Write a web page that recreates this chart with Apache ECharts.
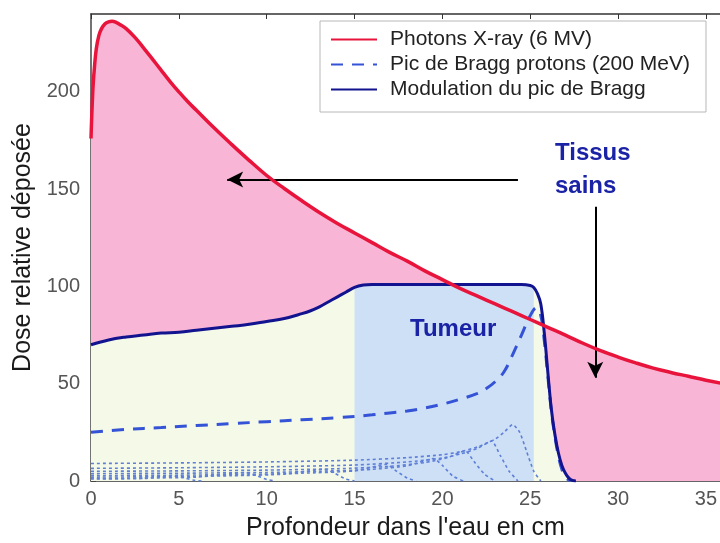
<!DOCTYPE html>
<html>
<head>
<meta charset="utf-8">
<script src="https://cdn.jsdelivr.net/npm/echarts@6/dist/echarts.min.js"></script>
<style>html,body{margin:0;padding:0;background:#fff}#c{width:720px;height:543px}</style>
</head>
<body>
<div id="c"></div>
<script>
// ---- data ----
const seriesNames = ['Photons X-ray (6 MV)', 'Pic de Bragg protons (200 MeV)', 'Modulation du pic de Bragg'];
const xAxisTitle = "Profondeur dans l'eau en cm";
const yAxisTitle = 'Dose relative déposée';

const photonDepth = [0,0.1,0.2,0.3,0.45,0.6,0.8,1.0,1.2,1.45,1.7,2,2.5,3,3.5,4,4.5,5,5.5,6,7,8,9,10,11,12,13,14,15,16,17,18,19,20,21,22,23,24,25,26,27,28,29,30,31,32,33,34,35,36];
const photonDose  = [176,200,213,222,229,232.5,235,236,236.3,235.6,234.3,232.5,228,222.5,216.8,211,205.3,200,195,190.5,181.5,173,164.8,157,150.3,144,138,132.5,127.5,122.5,117.5,113,108,103.5,99,95,91,87,83,79,75,70.8,67,63.7,60.7,58,55.8,53.8,51.8,50];

const sobpDepth = [0,1,2,3,4,5,6,7,8,9,10,11,12,12.5,13,13.5,14,14.5,15,15.5,16,18,20,22,24,24.5,25,25.2,25.4,25.6,25.8,26,26.2,26.4,26.6,26.8,27,27.2,27.4,27.6];
const sobpDose  = [70,72.5,74,75,76,76.5,77.5,78.5,79.5,80.5,82,83.5,86,87.5,89.5,92,94.5,97,99.5,100.7,101,101,101,101,101,101,100.5,99.5,96.5,91,76,56,37,24,14.5,8,4,1.5,0.3,0];

const braggDepth = [0,2,4,6,8,10,12,14,16,17,18,19,20,21,22,22.5,23,23.5,24,24.5,25,25.35,25.6,25.8,26,26.2,26.4,26.6,26.8,27,27.3];
const braggDose  = [25,26.5,27.5,28.5,29.5,30.5,31.5,32.5,34,35,36,37.5,39.5,42,45,47.5,51,56,65,75,85,89,85,72,54,36,23,13,6,2,0];

// individual weighted Bragg peaks (dotted)
const peak1Depth = [0,5,10,15,18,20,21,22,23,23.5,24,24.4,24.8,25.2,25.6];
const peak1Dose  = [9,9.3,9.8,10.7,12,13.5,15,17.5,21.5,25,29,25,15,5,0];
const peak2Depth = [0,5,10,15,18,20,21,22,22.8,23.3,23.8,24.3];
const peak2Dose  = [6.5,6.8,7.3,8.2,9.8,11.8,13.8,16.8,20.5,13,5,0];
const peak3Depth = [0,5,10,14,17,19,20.3,21.3,21.8,22.4,23];
const peak3Dose  = [5,5.2,5.6,6.3,7.5,9.5,12,15.5,10,3.5,0];
const peak4Depth = [0,5,10,13,16,18,19.5,20,20.6,21.2];
const peak4Dose  = [3.8,4,4.4,5,6,7.8,11.5,8,2.5,0];
const peak5Depth = [0,5,9,12,15,16.8,17.4,18,18.5];
const peak5Dose  = [2.8,3,3.4,4,5.2,8.5,5,1.5,0];
const peak6Depth = [0,4,8,11,13.3,13.9,14.5,15];
const peak6Dose  = [2,2.2,2.7,3.5,6,3.8,1,0];
const peak7Depth = [0,3,6,8.8,9.4,10,10.5];
const peak7Dose  = [1.3,1.5,2,4.3,2.8,0.8,0];
const peak8Depth = [0,3,4.6,5.2,5.8,6.3];
const peak8Dose  = [1,1.3,2.8,1.8,0.5,0];

const tumourRange = [15, 25.2];
const xTicks = [0,5,10,15,20,25,30,35];
const yTicks = [0,50,100,150,200];

// annotations
const annotTissus = ['Tissus', 'sains'];
const annotTumeur = 'Tumeur';
const arrowLeft = [[24.3,155],[7.75,155]];
const arrowDown = [[28.7,141],[28.7,53]];

// ---- build ----
const zip = (xs, ys) => xs.map((x, i) => [x, ys[i]]);
const photon = zip(photonDepth, photonDose);
const sobp = zip(sobpDepth, sobpDose);
const bragg = zip(braggDepth, braggDose);
const tumour = sobp.filter(p => p[0] >= tumourRange[0] && p[0] <= tumourRange[1]);
const peaks = [
  zip(peak1Depth, peak1Dose), zip(peak2Depth, peak2Dose), zip(peak3Depth, peak3Dose),
  zip(peak4Depth, peak4Dose), zip(peak5Depth, peak5Dose), zip(peak6Depth, peak6Dose),
  zip(peak7Depth, peak7Dose), zip(peak8Depth, peak8Dose)
];

const FONT = 'Liberation Sans, Arial, Helvetica, sans-serif';
const SM = 0.4;
const fill = (data, color) => ({
  type: 'line', data, smooth: SM, symbol: 'none', silent: true,
  lineStyle: { width: 0, opacity: 0 }, areaStyle: { color, opacity: 1 }, z: 1
});

const series = [
  fill(photon, '#f9b5d6'),
  fill(sobp, '#f4fae7'),
  fill(tumour, '#cde0f5'),
];
peaks.forEach(d => series.push({
  type: 'line', data: d, smooth: 0.2, symbol: 'none', silent: true, z: 3,
  lineStyle: { color: '#5f7fd8', width: 1.6, type: [3, 3] }
}));
series.push({
  name: seriesNames[1], type: 'line', data: bragg, smooth: SM, symbol: 'none', z: 4,
  itemStyle: { color: '#3553d6' },
  lineStyle: { color: '#3553d6', width: 3, type: [12, 9] }
});
series.push({
  name: seriesNames[2], type: 'line', data: sobp, smooth: SM, symbol: 'none', z: 5,
  itemStyle: { color: '#12138e' },
  lineStyle: { color: '#12138e', width: 3 }
});
series.push({
  name: seriesNames[0], type: 'line', data: photon, smooth: SM, symbol: 'none', z: 6,
  itemStyle: { color: '#e8143c' },
  lineStyle: { color: '#e8143c', width: 3.5 },
  markLine: {
    silent: true, symbol: ['none', 'arrow'], symbolSize: [12, 16],
    lineStyle: { color: '#000', width: 2, type: 'solid' },
    label: { show: false }, emphasis: { disabled: true },
    data: [
      [{ coord: arrowLeft[0] }, { coord: arrowLeft[1] }],
      [{ coord: arrowDown[0] }, { coord: arrowDown[1] }]
    ]
  }
});

const chart = echarts.init(document.getElementById('c'), null, { renderer: 'canvas' });
chart.setOption({
  animation: false,
  backgroundColor: '#fff',
  textStyle: { fontFamily: FONT },
  grid: { left: 91, right: 0, top: 14, bottom: 62, containLabel: false, outerBoundsMode: 'none' },
  legend: {
    data: seriesNames, orient: 'vertical', left: 320, top: 21,
    itemWidth: 46, itemHeight: 14, itemGap: 4,
    padding: [8, 16, 12, 10],
    borderColor: '#b8b8b8', borderWidth: 1, backgroundColor: '#fff',
    itemStyle: { color: 'rgba(0,0,0,0)', borderWidth: 0, opacity: 0 },
    textStyle: { fontSize: 21, color: '#222', fontFamily: FONT, padding: [0, 0, 0, 8] }
  },
  xAxis: [{
    type: 'value', min: 0, max: 35.8, interval: 5, position: 'bottom',
    name: xAxisTitle, nameLocation: 'middle', nameGap: 35,
    nameTextStyle: { fontSize: 25, color: '#1a1a1a', fontFamily: FONT },
    axisLine: { show: true, lineStyle: { color: '#333', width: 1.5 } },
    axisTick: { show: true, inside: true, length: 5, lineStyle: { color: '#333' } },
    axisLabel: { color: '#555', fontSize: 20, margin: 8, showMaxLabel: false,
      formatter: v => xTicks.includes(v) ? String(v) : '' },
    splitLine: { show: false }
  }, {
    type: 'value', min: 0, max: 35.8, interval: 5, position: 'top',
    axisLine: { show: true, lineStyle: { color: '#333', width: 1.5 } },
    axisTick: { show: true, inside: true, length: 5, lineStyle: { color: '#333' } },
    axisLabel: { show: false }, splitLine: { show: false }
  }],
  yAxis: {
    type: 'value', min: 0, max: 240, interval: 50,
    name: yAxisTitle, nameLocation: 'middle', nameGap: 47, nameRotate: 90,
    nameTextStyle: { fontSize: 25, color: '#1a1a1a', fontFamily: FONT },
    axisLine: { show: true, lineStyle: { color: '#444', width: 1.5 } },
    axisTick: { show: true, inside: true, length: 5, lineStyle: { color: '#444' } },
    axisLabel: { color: '#555', fontSize: 20, margin: 11, showMaxLabel: false,
      formatter: v => yTicks.includes(v) ? String(v) : '' },
    splitLine: { show: false }
  },
  series,
  graphic: [
    { type: 'text', left: 555, top: 137, z: 100, silent: true,
      style: { text: annotTissus.join('\n'), fill: '#1a22a6', font: 'bold 24px ' + FONT, lineHeight: 33 } },
    { type: 'text', left: 410, top: 317, z: 100, silent: true,
      style: { text: annotTumeur, fill: '#1a22a6', font: 'bold 24px ' + FONT } }
  ]
});
</script>
</body>
</html>
